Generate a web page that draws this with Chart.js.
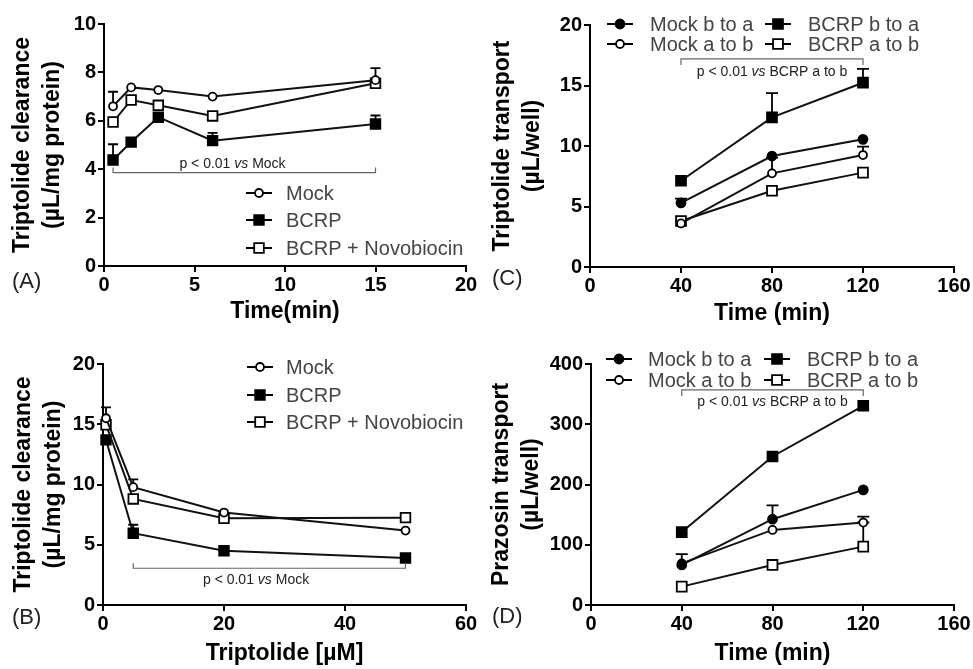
<!DOCTYPE html>
<html><head><meta charset="utf-8">
<script src="https://cdn.jsdelivr.net/npm/chart.js@4.4.1/dist/chart.umd.min.js"></script>
<style>
html,body{margin:0;padding:0;background:#fff;}
#wrap{position:relative;width:973px;height:669px;overflow:hidden;background:#fff;}
canvas{position:absolute;}
</style></head><body>
<div id="wrap">
<canvas id="cA" width="486" height="334" style="left:0px;top:0px"></canvas>
<canvas id="cB" width="486" height="335" style="left:0px;top:334px"></canvas>
<canvas id="cC" width="487" height="334" style="left:486px;top:0px"></canvas>
<canvas id="cD" width="487" height="335" style="left:486px;top:334px"></canvas>
</div>
<script>
// ---------- data ----------
// Panel A: clearance vs time
const timeA = [0.5, 1.5, 3, 6, 15];
const mockA = [6.6, 7.38, 7.27, 7.0, 7.68];
const mockAErr = [0.6, 0, 0, 0, 0.5];
const bcrpA = [4.38, 5.12, 6.15, 5.18, 5.87];
const bcrpAErr = [0.65, 0, 0, 0.32, 0.35];
const novoA = [5.95, 6.86, 6.64, 6.2, 7.55];
const novoAErr = [0, 0, 0, 0, 0];

// Panel B: clearance vs concentration
const concB = [0.5, 5, 20, 50];
const mockB = [15.5, 9.78, 7.67, 6.18];
const mockBErr = [0.9, 0.65, 0, 0];
const bcrpB = [13.7, 5.96, 4.5, 3.9];
const bcrpBErr = [0, 0.7, 0, 0];
const novoB = [14.96, 8.8, 7.2, 7.25];
const novoBErr = [0, 0, 0, 0];

// Panel C: triptolide transport
const timeC = [40, 80, 120];
const mockBaC = [5.3, 9.17, 10.55];
const mockBaCErr = [0.35, 0, 0];
const mockAbC = [3.6, 7.74, 9.25];
const mockAbCErr = [0, 1.3, 0.7];
const bcrpBaC = [7.13, 12.37, 15.23];
const bcrpBaCErr = [0, 2.0, 1.15];
const bcrpAbC = [3.8, 6.3, 7.8];
const bcrpAbCErr = [0, 0, 0];

// Panel D: prazosin transport
const timeD = [40, 80, 120];
const mockBaD = [66.5, 142.4, 191];
const mockBaDErr = [18, 23, 0];
const mockAbD = [69, 124.6, 136.8];
const mockAbDErr = [0, 0, 10];
const bcrpBaD = [121, 246.5, 330.7];
const bcrpBaDErr = [0, 0, 0];
const bcrpAbD = [30.5, 66.5, 96.9];
const bcrpAbDErr = [0, 0, 40];

// tick settings
const ticksA = {xmin: 0, xmax: 20, xstep: 5, ymin: 0, ymax: 10, ystep: 2};
const ticksB = {xmin: 0, xmax: 60, xstep: 20, ymin: 0, ymax: 20, ystep: 5};
const ticksC = {xmin: 0, xmax: 160, xstep: 40, ymin: 0, ymax: 20, ystep: 5};
const ticksD = {xmin: 0, xmax: 160, xstep: 40, ymin: 0, ymax: 400, ystep: 100};

// ---------- helpers ----------
const FONT = "'Liberation Sans', Arial, Helvetica, sans-serif";
const pts = (xs, ys) => xs.map((x, i) => ({x: x, y: ys[i]}));

function ds(label, xs, ys, errs, style, filled, radius) {
  return {
    label: label,
    data: pts(xs, ys),
    errorBars: errs,
    borderColor: '#111',
    borderWidth: 2,
    pointStyle: style,
    pointRadius: radius,
    pointHoverRadius: radius,
    pointBorderWidth: 1.8,
    pointBorderColor: '#000',
    pointBackgroundColor: filled ? '#000' : '#fff',
    showLine: true,
    fill: false,
    tension: 0,
    clip: false
  };
}

function drawMarker(ctx, x, y, style, filled, r) {
  ctx.save();
  ctx.lineWidth = 1.8;
  ctx.strokeStyle = '#000';
  ctx.fillStyle = filled ? '#000' : '#fff';
  ctx.beginPath();
  if (style === 'rect') {
    const s = r * Math.SQRT1_2;
    ctx.rect(x - s, y - s, 2 * s, 2 * s);
  } else {
    ctx.arc(x, y, r, 0, Math.PI * 2);
  }
  ctx.fill();
  ctx.stroke();
  ctx.restore();
}

const deco = {
  id: 'deco',
  beforeDatasetsDraw(chart, args, opts) {
    const ctx = chart.ctx, xs = chart.scales.x, ys = chart.scales.y;
    ctx.save();
    ctx.strokeStyle = '#000';
    ctx.lineWidth = 1.8;
    chart.data.datasets.forEach(d => {
      const errs = d.errorBars || [];
      d.data.forEach((p, i) => {
        const e = errs[i];
        if (!e) return;
        const px = xs.getPixelForValue(p.x);
        const y0 = ys.getPixelForValue(p.y);
        const y1 = ys.getPixelForValue(p.y + e);
        const cap = opts.cap || 5;
        ctx.beginPath();
        ctx.moveTo(px, y0); ctx.lineTo(px, y1);
        ctx.moveTo(px - cap, y1); ctx.lineTo(px + cap, y1);
        ctx.stroke();
      });
    });
    ctx.restore();
  },
  afterDraw(chart, args, opts) {
    const ctx = chart.ctx, xs = chart.scales.x, ys = chart.scales.y;
    ctx.save();
    // significance bracket
    const b = opts.bracket;
    if (b) {
      const x1 = xs.getPixelForValue(b.x1), x2 = xs.getPixelForValue(b.x2);
      const y = ys.getPixelForValue(b.y);
      ctx.strokeStyle = '#666';
      ctx.lineWidth = 1.2;
      ctx.beginPath();
      ctx.moveTo(x1, y + b.tick); ctx.lineTo(x1, y); ctx.lineTo(x2, y); ctx.lineTo(x2, y + b.tick);
      ctx.stroke();
      // text: "p < 0.01 " + italic "vs" + rest
      const f1 = "14px " + FONT, f2 = "italic 14px " + FONT;
      const parts = [[b.pre, f1], ['vs', f2], [b.post, f1]];
      let total = 0;
      parts.forEach(p => { ctx.font = p[1]; total += ctx.measureText(p[0]).width; });
      let tx = xs.getPixelForValue(b.tx) - total / 2;
      const ty = y + b.dy;
      ctx.fillStyle = '#222';
      ctx.textBaseline = 'middle';
      ctx.textAlign = 'left';
      parts.forEach(p => { ctx.font = p[1]; ctx.fillText(p[0], tx, ty); tx += ctx.measureText(p[0]).width; });
    }
    // legend
    (opts.legend || []).forEach(it => {
      ctx.strokeStyle = '#000';
      ctx.lineWidth = 2;
      ctx.beginPath();
      ctx.moveTo(it.mx - 13, it.y); ctx.lineTo(it.mx + 13, it.y);
      ctx.stroke();
      drawMarker(ctx, it.mx, it.y, it.style, it.filled, it.r);
      ctx.font = "20px " + FONT;
      ctx.fillStyle = '#444';
      ctx.textAlign = 'left';
      ctx.textBaseline = 'middle';
      ctx.fillText(it.text, it.tx, it.y + 1);
    });
    // panel label
    if (opts.panel) {
      ctx.font = "22px " + FONT;
      ctx.fillStyle = '#222';
      ctx.textAlign = 'left';
      ctx.textBaseline = 'middle';
      ctx.fillText(opts.panel.text, opts.panel.x, opts.panel.y);
    }
    ctx.restore();
  }
};

function scaleOpts(t, xTitle, yTitle, yw, xh, yPad, xPad) {
  const tickFont = {family: FONT, size: 20, weight: 'bold'};
  const titleFont = {family: FONT, size: 23, weight: 'bold', lineHeight: 1.3};
  return {
    x: {
      type: 'linear', min: t.xmin, max: t.xmax,
      ticks: {stepSize: t.xstep, color: '#000', font: tickFont, padding: 1, maxRotation: 0, autoSkip: false},
      grid: {display: true, drawOnChartArea: false, drawTicks: true, tickLength: 6, color: '#000', lineWidth: 2},
      border: {display: true, color: '#000', width: 2},
      title: {display: true, text: xTitle, color: '#000', font: {family: FONT, size: 23, weight: 'bold', lineHeight: 1.2}, padding: {top: 0, bottom: xPad}},
      afterFit(s) { s.height = xh; }
    },
    y: {
      type: 'linear', min: t.ymin, max: t.ymax,
      ticks: {stepSize: t.ystep, color: '#000', font: tickFont, padding: 2, autoSkip: false},
      grid: {display: true, drawOnChartArea: false, drawTicks: true, tickLength: 6, color: '#000', lineWidth: 2},
      border: {display: true, color: '#000', width: 2},
      title: {display: true, text: yTitle, color: '#000', font: titleFont, padding: {top: yPad, bottom: 0}},
      afterFit(s) { s.width = yw; }
    }
  };
}

function makeChart(id, datasets, scales, padding, decoOpts) {
  return new Chart(document.getElementById(id), {
    type: 'line',
    data: {datasets: datasets},
    options: {
      responsive: false,
      animation: false,
      devicePixelRatio: 1,
      layout: {padding: padding},
      scales: scales,
      plugins: {legend: {display: false}, tooltip: {enabled: false}, deco: decoOpts}
    },
    plugins: [deco]
  });
}

// ---------- Panel A ----------
makeChart('cA', [
  ds('Mock', timeA, mockA, mockAErr, 'circle', false, 4),
  ds('BCRP + Novobiocin', timeA, novoA, novoAErr, 'rect', false, 6.8),
  ds('BCRP', timeA, bcrpA, bcrpAErr, 'rect', true, 6.8)
], scaleOpts(ticksA, 'Time(min)', ['Triptolide clearance', '(\u00b5L/mg protein)'], 104, 68, 8, 8.5),
{left: 0, right: 20, top: 24, bottom: 0},
{cap: 5,
 bracket: {x1: 0.5, x2: 15, y: 3.86, tick: -5, tx: 7.1, dy: -8, pre: 'p < 0.01 ', post: ' Mock'},
 legend: [
   {mx: 259, tx: 286, y: 193, style: 'circle', filled: false, r: 4, text: 'Mock'},
   {mx: 259, tx: 286, y: 220, style: 'rect', filled: true, r: 6.8, text: 'BCRP'},
   {mx: 259, tx: 286, y: 248, style: 'rect', filled: false, r: 6.8, text: 'BCRP + Novobiocin'}
 ],
 panel: {text: '(A)', x: 12, y: 282}});

// ---------- Panel B ----------
makeChart('cB', [
  ds('Mock', concB, mockB, mockBErr, 'circle', false, 4),
  ds('BCRP + Novobiocin', concB, novoB, novoBErr, 'rect', false, 6.8),
  ds('BCRP', concB, bcrpB, bcrpBErr, 'rect', true, 6.8)
], scaleOpts(ticksB, 'Triptolide [\u00b5M]', ['Triptolide clearance', '(\u00b5L/mg protein)'], 103, 64, 9, 2),
{left: 0, right: 20, top: 30, bottom: 0},
{cap: 5,
 bracket: {x1: 5, x2: 50, y: 3.05, tick: -5, tx: 25.3, dy: 12, pre: 'p < 0.01 ', post: ' Mock'},
 legend: [
   {mx: 260, tx: 286, y: 33, style: 'circle', filled: false, r: 4, text: 'Mock'},
   {mx: 260, tx: 286, y: 61, style: 'rect', filled: true, r: 6.8, text: 'BCRP'},
   {mx: 260, tx: 286, y: 88, style: 'rect', filled: false, r: 6.8, text: 'BCRP + Novobiocin'}
 ],
 panel: {text: '(B)', x: 12, y: 284}});

// ---------- Panel C ----------
makeChart('cC', [
  ds('Mock b to a', timeC, mockBaC, mockBaCErr, 'circle', true, 4.5),
  ds('Mock a to b', timeC, mockAbC, mockAbCErr, 'circle', false, 4),
  ds('BCRP b to a', timeC, bcrpBaC, bcrpBaCErr, 'rect', true, 7),
  ds('BCRP a to b', timeC, bcrpAbC, bcrpAbCErr, 'rect', false, 7)
], scaleOpts(ticksC, 'Time (min)', ['Triptolide transport', '(\u00b5L/well)'], 104, 67, 2, 7),
{left: 0, right: 19, top: 25, bottom: 0},
{cap: 6,
 bracket: {x1: 40, x2: 120, y: 17.2, tick: 6, tx: 80, dy: 13, pre: 'p < 0.01 ', post: ' BCRP a to b'},
 legend: [
   {mx: 134, tx: 164, y: 24, style: 'circle', filled: true, r: 4.5, text: 'Mock b to a'},
   {mx: 134, tx: 164, y: 44, style: 'circle', filled: false, r: 4, text: 'Mock a to b'},
   {mx: 292, tx: 322, y: 24, style: 'rect', filled: true, r: 7, text: 'BCRP b to a'},
   {mx: 292, tx: 322, y: 44, style: 'rect', filled: false, r: 7, text: 'BCRP a to b'}
 ],
 panel: {text: '(C)', x: 6, y: 279}});

// ---------- Panel D ----------
makeChart('cD', [
  ds('Mock b to a', timeD, mockBaD, mockBaDErr, 'circle', true, 4.5),
  ds('Mock a to b', timeD, mockAbD, mockAbDErr, 'circle', false, 4),
  ds('BCRP b to a', timeD, bcrpBaD, bcrpBaDErr, 'rect', true, 7),
  ds('BCRP a to b', timeD, bcrpAbD, bcrpAbDErr, 'rect', false, 7)
], scaleOpts(ticksD, 'Time (min)', ['Prazosin transport', '(\u00b5L/well)'], 105, 64, 1, 2),
{left: 0, right: 19, top: 30, bottom: 0},
{cap: 6,
 bracket: {x1: 40, x2: 120, y: 357, tick: 6, tx: 80, dy: 12, pre: 'p < 0.01 ', post: ' BCRP a to b'},
 legend: [
   {mx: 133, tx: 162, y: 25, style: 'circle', filled: true, r: 4.5, text: 'Mock b to a'},
   {mx: 133, tx: 162, y: 46, style: 'circle', filled: false, r: 4, text: 'Mock a to b'},
   {mx: 291, tx: 321, y: 25, style: 'rect', filled: true, r: 7, text: 'BCRP b to a'},
   {mx: 291, tx: 321, y: 46, style: 'rect', filled: false, r: 7, text: 'BCRP a to b'}
 ],
 panel: {text: '(D)', x: 6, y: 283}});
</script>
</body></html>
